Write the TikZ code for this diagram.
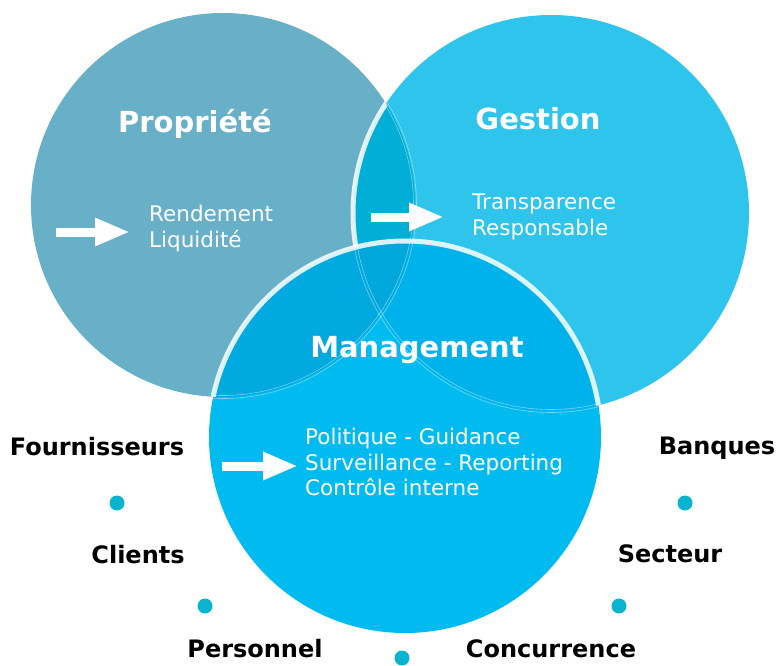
\documentclass[tikz,border=0pt]{standalone}
\usepackage{fontspec}
\setmainfont{DejaVu Sans}
\usetikzlibrary{arrows.meta}

\definecolor{propcol}{HTML}{67B0C7}
\definecolor{gestcol}{HTML}{2EC4EB}
\definecolor{mgmtcol}{HTML}{00BBF0}
\definecolor{pgcol}{HTML}{00AED6}
\definecolor{mpcol}{HTML}{00A9E0}
\definecolor{mgcol}{HTML}{00B2EC}
\definecolor{mpgcol}{HTML}{00A8DC}
\definecolor{pointcol}{HTML}{0AB4CF}

\tikzset{
  titre/.style={text=white, font=\fontsize{29}{35}\selectfont\bfseries, anchor=base},
  corps/.style={text=white, font=\fontsize{21.5}{25.5}\selectfont, anchor=north west, align=left, inner sep=0pt},
  fleche/.style={white, line width=9pt, -{Triangle[length=35pt,width=26pt]}},
  acteur/.style={font=\fontsize{24}{28}\selectfont\bfseries, anchor=base, inner sep=0pt},
  point/.style={fill=pointcol},
  contour/.style={white, line width=5pt, opacity=.85},
  filet/.style={white, line width=.6pt, opacity=.45},
}

\begin{document}
\begin{tikzpicture}[x=1pt, y=-1pt]
    \useasboundingbox (0,0) rectangle (776,666);

    % centres of the three circles
    \coordinate (cP) at (223,205);
    \coordinate (cG) at (551,213);
    \coordinate (cM) at (405,437);

    % --- Propriete and Gestion ---
    \fill[propcol] (cP) circle (192);
    \fill[gestcol] (cG) circle (198);
    \begin{scope}
        \clip (cP) circle (192);
        \fill[pgcol] (cG) circle (198);
        \draw[contour] (cG) circle (198);
    \end{scope}
    % outline of Propriete seen through Gestion
    \begin{scope}
        \clip (cG) circle (198);
        \draw[filet] (cP) circle (190.5);
        \draw[filet] (cP) circle (193.5);
    \end{scope}

    % --- Management on top ---
    \fill[mgmtcol] (cM) circle (196);
    \begin{scope}
        \clip (cM) circle (196);
        \fill[mpcol] (cP) circle (192);
        \fill[mgcol] (cG) circle (198);
        \clip (cP) circle (192);
        \fill[mpgcol] (cG) circle (198);
    \end{scope}
    % outlines seen through Management
    \begin{scope}
        \clip (cM) circle (196);
        \foreach \r in {190.5,193.5} {
            \draw[filet] (cP) circle (\r);
        }
        \foreach \r in {196.5,199.5} {
            \draw[filet] (cG) circle (\r);
        }
    \end{scope}
    \begin{scope}
        \clip (cP) circle (192) (cG) circle (198);
        \draw[contour] (cM) circle (196);
    \end{scope}

    % --- titles ---
    \node[titre] (prop) at (195,132) {Propriété};
    \node[titre] (gest) at (538,130) {Gestion};
    \node[titre] (mgmt) at (417,357) {Management};

    % --- arrows and contents ---
    \draw[fleche] (56,232) -- (130,232);
    \node[corps] (rend) at (149,205) {Rendement\\Liquidité};

    \draw[fleche] (371,217) -- (444,217);
    \node[corps] (trans) at (472,194) {Transparence\\Responsable};

    \draw[fleche] (222,466) -- (298,466);
    \node[corps] (poli) at (305,428) {Politique - Guidance\\Surveillance - Reporting\\Contrôle interne};

    % --- stakeholders round the bottom ---
    \foreach \nom/\x/\y/\texte in {four/97/455/Fournisseurs, cli/138/563/Clients,
        pers/255/657/Personnel, conc/551/657/Concurrence,
        sect/670/562/Secteur, banq/717/454/Banques} {
        \node[acteur] (\nom) at (\x,\y) {\texte};
    }
    \foreach \x/\y in {117/503, 205/606, 402/658, 619/606, 685/503} {
        \fill[point] (\x,\y) circle (7.5);
    }
\end{tikzpicture}
\end{document}
